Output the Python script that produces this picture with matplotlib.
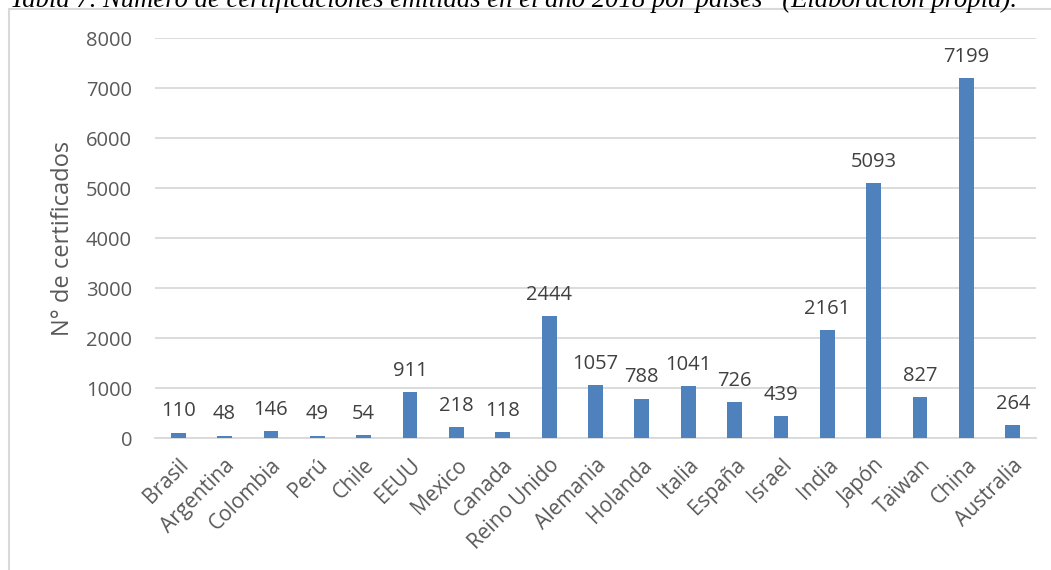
import matplotlib.pyplot as plt
from matplotlib.patches import Rectangle

paises = ["Brasil", "Argentina", "Colombia", "Perú", "Chile", "EEUU", "Mexico",
          "Canada", "Reino Unido", "Alemania", "Holanda", "Italia", "España",
          "Israel", "India", "Japón", "Taiwan", "China", "Australia"]
certificados = [110, 48, 146, 49, 54, 911, 218, 118, 2444, 1057, 788, 1041,
                726, 439, 2161, 5093, 827, 7199, 264]
yticks = [0, 1000, 2000, 3000, 4000, 5000, 6000, 7000, 8000]

titulo = ("Tabla 7. Número de certificaciones emitidas en el año 2018 por países"
          "   (Elaboración propia).")

W, H = 1051, 570
gris = "#595959"
plt.rcParams["font.family"] = ["Open Sans", "DejaVu Sans"]

fig = plt.figure(figsize=(W / 100, H / 100), dpi=100)
ax = fig.add_axes([155 / W, 1 - 438 / H, (1036 - 155) / W, 400 / H])

x = range(len(paises))
ax.bar(x, certificados, width=0.32, color="#4F81BD", zorder=3)
for xi, v in zip(x, certificados):
    ax.annotate(str(v), (xi, v), xytext=(0, 8), textcoords="offset points",
                ha="center", va="bottom", fontsize=14.5, color="#404040")

ax.set_xlim(-0.5, len(paises) - 0.5)
ax.set_ylim(0, 8000)
ax.set_yticks(yticks)
ax.yaxis.grid(True, color="#D9D9D9", linewidth=1.3, zorder=0)
ax.set_xticks(list(x))
ax.set_xticklabels(paises, rotation=45, ha="right", rotation_mode="anchor",
                   fontsize=15, color=gris)
ax.tick_params(axis="y", length=0, labelsize=14.5, colors=gris, pad=16.5)
ax.tick_params(axis="x", length=0, labelsize=15, colors=gris, pad=12)
for s in ["top", "right", "left"]:
    ax.spines[s].set_visible(False)
ax.spines["bottom"].set_color("#D9D9D9")
ax.spines["bottom"].set_linewidth(1.3)
ax.set_ylabel("N° de certificados", fontsize=17, color=gris, labelpad=8)

# marco del gráfico
fig.patches.append(Rectangle((9 / W, -0.1), 1.1, 1 - 9 / H + 0.1,
                             transform=fig.transFigure, fill=False,
                             edgecolor="#D9D9D9", linewidth=1.5))

fig.text(10 / W, 1 - 7 / H, titulo, family="Liberation Serif", style="italic",
         fontsize=19.2, va="baseline", ha="left", color="black")

fig.savefig("out.png", dpi=100)
